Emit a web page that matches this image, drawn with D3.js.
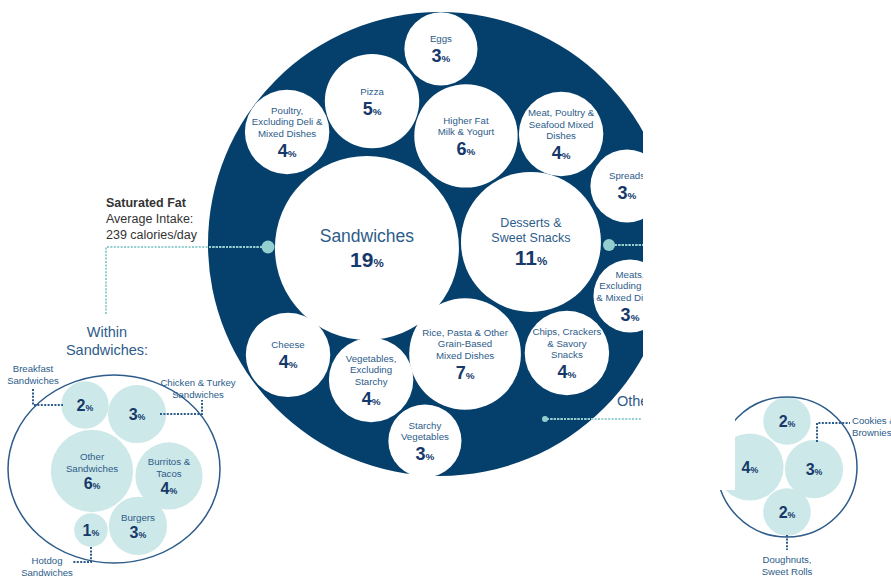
<!DOCTYPE html>
<html><head><meta charset="utf-8">
<script src="https://cdn.jsdelivr.net/npm/d3@7"></script>
<style>
body{margin:0;background:#fff}
svg{display:block}
text{font-family:"Liberation Sans",Arial,Helvetica,sans-serif}
</style>
</head><body>
<svg id="chart" width="891" height="577"></svg>
<script>
// ---------------- DATA ----------------
const mainCategories = ["Sandwiches","Desserts & Sweet Snacks","Eggs","Pizza",
  "Poultry, Excluding Deli & Mixed Dishes","Higher Fat Milk & Yogurt",
  "Meat, Poultry & Seafood Mixed Dishes","Spreads","Meats, Excluding Deli & Mixed Dishes",
  "Chips, Crackers & Savory Snacks","Rice, Pasta & Other Grain-Based Mixed Dishes",
  "Starchy Vegetables","Vegetables, Excluding Starchy","Cheese"];
const mainValues = [19,11,3,5,4,6,4,3,3,4,7,3,4,4];
const mainLabelLines = [["Sandwiches"],["Desserts &","Sweet Snacks"],["Eggs"],["Pizza"],
  ["Poultry,","Excluding Deli &","Mixed Dishes"],["Higher Fat","Milk & Yogurt"],
  ["Meat, Poultry &","Seafood Mixed","Dishes"],["Spreads"],["Meats,","Excluding Deli","& Mixed Dishes"],
  ["Chips, Crackers","& Savory","Snacks"],["Rice, Pasta & Other","Grain-Based","Mixed Dishes"],
  ["Starchy","Vegetables"],["Vegetables,","Excluding","Starchy"],["Cheese"]];

const sandwichCategories = ["Breakfast Sandwiches","Chicken & Turkey Sandwiches","Other Sandwiches",
  "Burritos & Tacos","Burgers","Hotdog Sandwiches"];
const sandwichValues = [2,3,6,4,3,1];
const sandwichInnerLines = [null,null,["Other","Sandwiches"],["Burritos &","Tacos"],["Burgers"],null];

const dessertCategories = ["Ice Cream & Frozen Dairy Desserts","Cookies & Brownies","Cakes & Pies","Doughnuts, Sweet Rolls"];
const dessertValues = [2,3,4,2];

const nutrient = "Saturated Fat";
const intakeLines = ["Average Intake:","239 calories/day"];

// ------------- PACKING LAYOUT (normalized, unit = enclosing radius) -------------
const mainLayout = [[-0.315,0.017],[0.392,-0.009],[0.004,-0.841],[-0.293,-0.616],
  [-0.659,-0.483],[0.112,-0.466],[0.522,-0.474],[0.806,-0.250],[0.819,0.224],
  [0.547,0.470],[0.108,0.474],[-0.065,0.849],[-0.297,0.586],[-0.655,0.478]];
const sandwichLayout = [[-0.309,-0.681],[0.245,-0.585],[-0.234,0.021],[0.585,0.074],[0.255,0.606],[-0.245,0.649]];
const dessertLayout = [[0,-0.657],[0.386,0.029],[-0.529,0],[0,0.643]];

// ---------------- STYLE ----------------
const NAVY = "#053f6c", LABEL = "#2d5c8a", NUM = "#15396a", TEAL = "#cde8e8", DOT = "#94cfcf", DOT_ON_NAVY = "#c9e4e8";

const svg = d3.select("#chart");
const defs = svg.append("defs");
defs.append("clipPath").attr("id","cut")
  .append("path").attr("clip-rule","evenodd")
  .attr("d","M0,0H891V577H0Z M643,0H735V490H643Z");
const M = {cx:440, cy:244, R:232};
defs.append("clipPath").attr("id","navyclip")
  .append("circle").attr("cx",M.cx).attr("cy",M.cy).attr("r",M.R);
const g = svg.append("g").attr("clip-path","url(#cut)");

function labelBlock(sel, cx, cy, lines, value, o){
  const t = sel.append("g");
  let numBase;
  if(lines && lines.length){
    const cap = 0.72*o.ls, n = lines.length;
    const fb = cy + (cap - (n-1)*o.lh - o.gap)/2;
    lines.forEach((l,i)=>{
      t.append("text").attr("x",cx).attr("y",fb+i*o.lh).attr("text-anchor","middle")
        .attr("font-size",o.ls).attr("fill",LABEL).text(l);
    });
    numBase = fb + (n-1)*o.lh + o.gap;
  } else {
    numBase = cy + 0.72*o.ns/2;
  }
  const nt = t.append("text").attr("x",cx).attr("y",numBase).attr("text-anchor","middle")
    .attr("fill",NUM).attr("font-weight","bold");
  nt.append("tspan").attr("font-size",o.ns).text(value);
  nt.append("tspan").attr("font-size",o.ns*0.55).text("%");
}

// ---------------- MAIN CIRCLE ----------------
const mx = d3.scaleLinear().domain([-1,1]).range([M.cx-M.R, M.cx+M.R]);
const my = d3.scaleLinear().domain([-1,1]).range([M.cy-M.R, M.cy+M.R]);
const rMain = d3.scaleSqrt().domain([0,19]).range([0,92]);

g.append("circle").attr("cx",M.cx).attr("cy",M.cy).attr("r",M.R).attr("fill",NAVY);

// connectors of main chart (teal on white, lighter on navy)
function dpath(sel, d, color, w){
  sel.append("path").attr("d",d).attr("stroke",color).attr("stroke-width",w||2)
    .attr("stroke-dasharray","2,1.4").attr("fill","none");
}
const onNavy = g.append("g").attr("clip-path","url(#navyclip)");
[["M262,247H106V315"],["M615,245H643"],["M547,419H641"]].forEach(([d])=>{
  dpath(g, d, DOT); dpath(onNavy, d, DOT_ON_NAVY);
});
g.append("circle").attr("cx",268).attr("cy",247).attr("r",6.5).attr("fill",DOT);
g.append("circle").attr("cx",609).attr("cy",245).attr("r",6).attr("fill",DOT);
g.append("circle").attr("cx",545).attr("cy",419).attr("r",3).attr("fill",DOT);

const mainData = mainCategories.map((c,i)=>({c, v:mainValues[i], lines:mainLabelLines[i],
  x:mx(mainLayout[i][0]), y:my(mainLayout[i][1])}));
g.selectAll("circle.mb").data(mainData).join("circle").attr("class","mb")
  .attr("cx",d=>d.x).attr("cy",d=>d.y).attr("r",d=>rMain(d.v)).attr("fill","#fff");
mainData.forEach(d=>{
  const big = d.v>=19, mid = d.v>=11 && !big;
  labelBlock(g, d.x, d.y, d.lines, d.v, big ? {ls:17.5, lh:18, gap:25, ns:21}
    : mid ? {ls:12.5, lh:15, gap:23, ns:21} : {ls:9.7, lh:11.5, gap:20, ns:18});
});

// intake text
g.append("text").attr("x",106).attr("y",207).attr("font-size",12.5).attr("font-weight","bold")
  .attr("fill","#333").text(nutrient);
intakeLines.forEach((l,i)=>g.append("text").attr("x",106).attr("y",223+i*15.5)
  .attr("font-size",12.5).attr("fill","#333").text(l));

// ---------------- WITHIN SANDWICHES ----------------
const S = {cx:114, cy:469, R:94, RX:106};
const sx = d3.scaleLinear().domain([-1,1]).range([S.cx-S.R, S.cx+S.R]);
const sy = d3.scaleLinear().domain([-1,1]).range([S.cy-S.R, S.cy+S.R]);
const rSub = d3.scaleSqrt().domain([0,1]).range([0,16.8]);

g.append("text").attr("x",107).attr("y",337).attr("text-anchor","middle").attr("font-size",14.5)
  .attr("fill",LABEL).text("Within");
g.append("text").attr("x",107).attr("y",355).attr("text-anchor","middle").attr("font-size",14.5)
  .attr("fill",LABEL).text("Sandwiches:");

const sandData = sandwichCategories.map((c,i)=>({c, v:sandwichValues[i], lines:sandwichInnerLines[i],
  x:sx(sandwichLayout[i][0]), y:sy(sandwichLayout[i][1])}));
g.selectAll("circle.sb").data(sandData).join("circle").attr("class","sb")
  .attr("cx",d=>d.x).attr("cy",d=>d.y).attr("r",d=>rSub(d.v)).attr("fill",TEAL);
g.append("ellipse").attr("cx",S.cx).attr("cy",S.cy).attr("rx",S.RX).attr("ry",S.R).attr("fill","none")
  .attr("stroke",LABEL).attr("stroke-width",1.5);
sandData.forEach(d=>labelBlock(g, d.x, d.y, d.lines, d.v, {ls:9.7, lh:11.5, gap:17, ns:16}));

function outerLabel(x, y, lines, anchor){
  lines.forEach((l,i)=>g.append("text").attr("x",x).attr("y",y+i*11.5).attr("text-anchor",anchor)
    .attr("font-size",9.6).attr("fill",LABEL).text(l));
}
outerLabel(33,372,["Breakfast","Sandwiches"],"middle");
dpath(g,"M33,389V405H63", LABEL);
outerLabel(198,386,["Chicken & Turkey","Sandwiches"],"middle");
dpath(g,"M160,414H202V400", LABEL);
outerLabel(47,564,["Hotdog","Sandwiches"],"middle");
dpath(g,"M91,547V562H72", LABEL);

// ---------------- OTHER (right) ----------------
g.append("text").attr("x",617).attr("y",406).attr("font-size",14.5).attr("fill",LABEL).text("Other");

const D = {cx:787, cy:467, R:70};
const dx = d3.scaleLinear().domain([-1,1]).range([D.cx-D.R, D.cx+D.R]);
const dy = d3.scaleLinear().domain([-1,1]).range([D.cy-D.R, D.cy+D.R]);
const desData = dessertCategories.map((c,i)=>({c, v:dessertValues[i],
  x:dx(dessertLayout[i][0]), y:dy(dessertLayout[i][1])}));
g.selectAll("circle.db").data(desData).join("circle").attr("class","db")
  .attr("cx",d=>d.x).attr("cy",d=>d.y).attr("r",d=>rSub(d.v)).attr("fill",TEAL);
g.append("circle").attr("cx",D.cx).attr("cy",D.cy).attr("r",D.R).attr("fill","none")
  .attr("stroke",LABEL).attr("stroke-width",1.5);
desData.forEach(d=>labelBlock(g, d.x, d.y, null, d.v, {ns:16}));
outerLabel(852,424,["Cookies &","Brownies"],"start");
dpath(g,"M817,442V423H850", LABEL);
outerLabel(787,563,["Doughnuts,","Sweet Rolls"],"middle");
dpath(g,"M787,535V550", LABEL);
</script>
</body></html>
